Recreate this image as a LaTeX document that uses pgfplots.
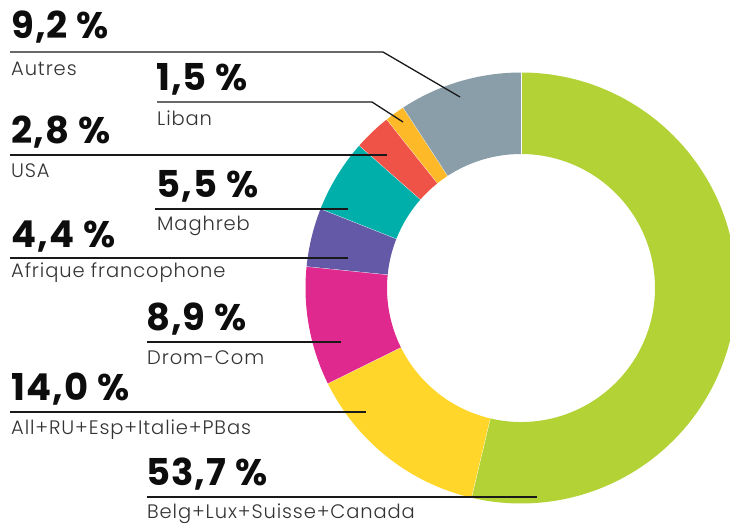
\documentclass[border=0pt]{standalone}
\usepackage{pgfplots}
\pgfplotsset{compat=1.18}
\usepackage{fontspec}
\setmainfont{Poppins}
\newfontfamily\lightfont{Poppins Light}[LetterSpace=4.5]
\newfontfamily\pctfont{Poppins Bold}[LetterSpace=3]
\definecolor{cgreen}{HTML}{B2D235}
\definecolor{cyellow}{HTML}{FFD629}
\definecolor{cmagenta}{HTML}{E0298E}
\definecolor{cpurple}{HTML}{6459A6}
\definecolor{cteal}{HTML}{00AFAA}
\definecolor{cred}{HTML}{EF5246}
\definecolor{corange}{HTML}{FDB927}
\definecolor{cgrey}{HTML}{8A9EAA}
\begin{document}
\begin{tikzpicture}
\begin{axis}[name=ax, x=1pt, y=1pt, xmin=0, xmax=730, ymin=0, ymax=522,
  y dir=reverse, hide axis, scale only axis, clip=true]
\xdef\curA{90}
\foreach \v/\c in {53.7/cgreen, 14.0/cyellow, 8.9/cmagenta, 4.4/cpurple, 5.5/cteal, 2.8/cred, 1.5/corange, 9.2/cgrey}{
  \pgfmathsetmacro\b{\curA-3.6*\v}
  \edef\temp{\noexpand\fill[\c] (axis cs:521,288) ++(\curA:215.5pt) arc[start angle=\curA, end angle=\b, radius=215.5pt] -- ([shift={(\b:134pt)}]axis cs:521,288) arc[start angle=\b, end angle=\curA, radius=134pt] -- cycle;}
  \temp
  \edef\tempb{\noexpand\draw[white, line width=0.7pt] ([shift={(\b:133pt)}]axis cs:521,288) -- ([shift={(\b:217pt)}]axis cs:521,288);}
  \tempb
  \xdef\curA{\b}
}
% leader lines
\draw[line width=1.3pt, black!90] (axis cs:10,52) -- (axis cs:383,52) -- (axis cs:460,97);
\draw[line width=1.3pt, black!90] (axis cs:157,102) -- (axis cs:372,102) -- (axis cs:403,122);
\draw[line width=1.3pt, black!90] (axis cs:10,155) -- (axis cs:387,155);
\draw[line width=1.3pt, black!90] (axis cs:155,209) -- (axis cs:348,209);
\draw[line width=1.3pt, black!90] (axis cs:10,258) -- (axis cs:348,258);
\draw[line width=1.3pt, black!90] (axis cs:147,342) -- (axis cs:341,342);
\draw[line width=1.3pt, black!90] (axis cs:10,412) -- (axis cs:366,412);
\draw[line width=1.3pt, black!90] (axis cs:147,497) -- (axis cs:537,497);
% labels
\tikzset{pct/.style={anchor=base west, inner sep=0pt, text=black!95, font=\pctfont\fontsize{37}{37}\selectfont},
         lab/.style={anchor=base west, inner sep=0pt, text=black!80, font=\lightfont\fontsize{19.5}{19.5}\selectfont}}
\node[pct] at (axis cs:11,38) {9,2 \%};
\node[lab] at (axis cs:11,75) {Autres};
\node[pct] at (axis cs:156,90) {1,5 \%};
\node[lab] at (axis cs:157,125) {Liban};
\node[pct] at (axis cs:11,143) {2,8 \%};
\node[lab] at (axis cs:11,177) {USA};
\node[pct] at (axis cs:156,197) {5,5 \%};
\node[lab] at (axis cs:157,230) {Maghreb};
\node[pct] at (axis cs:11,247) {4,4 \%};
\node[lab] at (axis cs:11,277) {Afrique francophone};
\node[pct] at (axis cs:146,330) {8,9 \%};
\node[lab] at (axis cs:147,364) {Drom-Com};
\node[pct] at (axis cs:11,400) {14,0 \%};
\node[lab] at (axis cs:11,434) {All+RU+Esp+Italie+PBas};
\node[pct] at (axis cs:146,485) {53,7 \%};
\node[lab] at (axis cs:147,518) {Belg+Lux+Suisse+Canada};
\end{axis}
\pgfresetboundingbox
\useasboundingbox (ax.south west) rectangle (ax.north east);
\end{tikzpicture}
\end{document}
